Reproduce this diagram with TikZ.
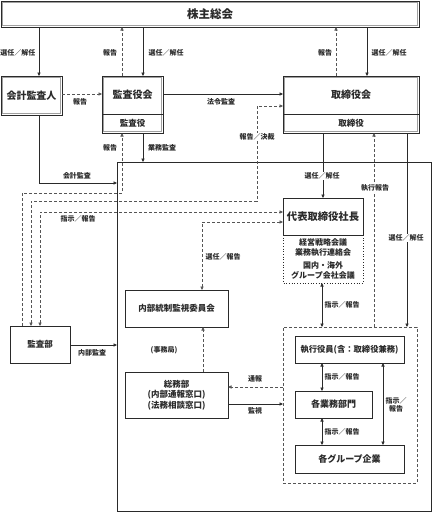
\documentclass[tikz,border=0pt]{standalone}
\usepackage{fontspec}
\setmainfont{Noto Sans CJK JP}
\usetikzlibrary{arrows.meta,calc}
\definecolor{lc}{HTML}{2A2A2A}
\definecolor{dc}{HTML}{555555}
\definecolor{fr}{HTML}{A0A0A0}
\begin{document}
\begin{tikzpicture}[x=1pt,y=-1pt,line width=0.6pt,
  every node/.style={inner sep=0pt,outer sep=0pt},
  plainbox/.style={draw=lc,rectangle},
  framebox/.style={draw=lc,rectangle,
    path picture={\draw[fr,line width=1.3pt]
      ([shift={(1.8pt,-1.8pt)}]path picture bounding box.north west) rectangle
      ([shift={(-1.8pt,1.8pt)}]path picture bounding box.south east);}},
  lbl/.style={font=\fontsize{7}{8.5}\selectfont\bfseries,text=lc},
  ttl/.style={font=\fontsize{10}{12}\selectfont\bfseries,text=lc},
  sm/.style={font=\fontsize{8.5}{10.5}\selectfont\bfseries,text=lc},
  arr/.style={draw=lc,-{Triangle[length=3.5pt,width=3.2pt]}},
  darr/.style={draw=lc,{Triangle[length=3.5pt,width=3.2pt]}-{Triangle[length=3.5pt,width=3.2pt]}},
  dsh/.style={draw=dc,dash pattern=on 3pt off 2pt}
]
\path[fill=white] (0,0) rectangle (432,512);
\useasboundingbox (0,0) rectangle (432,512);

% helper coordinates
\foreach \v in {22,31,39,40,122,143,202,203,257,322,323,336,367,374,383,407}
  {\coordinate (X\v) at (\v,0);}
\foreach \v in {94,106,114,183,193,201,212,222,345,387,404}
  {\coordinate (Y\v) at (0,\v);}

% outer big region
\node[draw=lc,line width=0.8pt,minimum width=314,minimum height=349] (big) at (274,336.5) {};

% boxes
\node[framebox,minimum width=418,minimum height=26,font=\fontsize{11.5}{13}\selectfont\bfseries,text=lc] (kabu) at (210,14) {株主総会};
\node[framebox,minimum width=61,minimum height=39,ttl] (kaikei) at (31.5,95.5) {会計監査人};
\node[framebox,minimum width=61,minimum height=57] (kansa) at (132.5,104.5) {};
\node[ttl] (kansaT) at (132.5,95) {監査役会};
\node[sm] (kansaS) at (132.5,123.5) {監査役};
\node[framebox,minimum width=136,minimum height=57] (tori) at (351,104.5) {};
\node[ttl] (toriT) at (351,95) {取締役会};
\node[sm] (toriS) at (351,123.5) {取締役};
\draw[lc] (kansa.west |- Y114) -- (kansa.east |- Y114);
\draw[lc] (tori.west |- Y114) -- (tori.east |- Y114);

\node[plainbox,minimum width=80,minimum height=37,font=\fontsize{10.3}{12}\selectfont\bfseries,text=lc] (daihyo) at (323,216.5) {代表取締役社長};
\node[minimum width=80,minimum height=48,font=\fontsize{8}{9.7}\selectfont\bfseries,text=lc,align=center] (kaigi) at (323,259)
  {経営戦略会議\\業務執行連絡会\\[3pt]国内・海外\\グループ会社会議};
\draw[lc,dotted,line width=0.7pt] (kaigi.north west) -- (kaigi.south west) -- (kaigi.south east) -- (kaigi.north east);

\node[plainbox,minimum width=103,minimum height=37,sm] (naibu) at (176.5,308.5) {内部統制監視委員会};
\node[plainbox,minimum width=103,minimum height=46,sm,align=center] (somu) at (176.5,395) {総務部\\(内部通報窓口)\\(法務相談窓口)};
\node[plainbox,minimum width=60,minimum height=37,sm] (kansabu) at (40,344.5) {監査部};

\node[draw=dc,dash pattern=on 3pt off 2pt,minimum width=134,minimum height=156] (exec) at (350,405) {};
\node[plainbox,minimum width=109,minimum height=27,font=\fontsize{8.3}{10}\selectfont\bfseries,text=lc] (shikko) at (349.5,349.5) {執行役員(含：取締役兼務)};
\node[plainbox,minimum width=77,minimum height=27,font=\fontsize{9}{11}\selectfont\bfseries,text=lc] (gyomu) at (333.5,404.5) {各業務部門};
\node[plainbox,minimum width=109,minimum height=28,font=\fontsize{9}{11}\selectfont\bfseries,text=lc] (group) at (349.5,459) {各グループ企業};

% connectors: top row
\draw[arr] (kabu.south -| X39) -- (kaikei.north -| X39);
\draw[arr,dsh] (kansa.north -| X122) -- (kabu.south -| X122);
\draw[arr] (kabu.south -| X143) -- (kansa.north -| X143);
\draw[arr,dsh] (tori.north -| X336) -- (kabu.south -| X336);
\draw[arr] (kabu.south -| X367) -- (tori.north -| X367);

% second row
\draw[arr,dsh] (kaikei.east |- Y94) -- (kansa.west |- Y94);
\draw[arr] (kansa.east |- Y94) -- (tori.west |- Y94);

% audit department links
\draw[darr,dsh] (kansabu.north -| X31) -- (X31 |- Y201) -- (X257 |- Y201) -- (X257 |- Y106) -- (tori.west |- Y106);
\draw[darr,dsh] (kansabu.north -| X40) -- (X40 |- Y212) -- (daihyo.west |- Y212);
\draw[darr,dsh] (naibu.north -| X202) -- (X202 |- Y222) -- (daihyo.west |- Y222);
\draw[arr,dsh] (kansabu.north -| X22) -- (X22 |- Y193) -- (X122 |- Y193) -- (kansa.south -| X122);

\draw[arr] (kansa.south -| X143) -- (big.north -| X143);
\draw[arr] (kaikei.south -| X39) -- (X39 |- Y183) -- (big.west |- Y183);

\draw[arr] (tori.south -| X323) -- (daihyo.north -| X323);
\draw[arr,dsh] (exec.north -| X374) -- (tori.south -| X374);
\draw[arr] (tori.south -| X407) -- (exec.north -| X407);
\draw[darr] (kaigi.south -| X322) -- (exec.north -| X322);

\draw[arr,dsh] (somu.north -| X203) -- (naibu.south -| X203);
\draw[arr,dsh] (exec.west |- Y387) -- (somu.east |- Y387);
\draw[arr] (somu.east |- Y404) -- (exec.west |- Y404);
\draw[arr] (kansabu.east |- Y345) -- (big.west |- Y345);

\draw[darr] (shikko.south -| X322) -- (gyomu.north -| X322);
\draw[darr] (gyomu.south -| X322) -- (group.north -| X322);
\draw[darr] (shikko.south -| X383) -- (group.north -| X383);

% labels
\node[lbl] (l1) at (18,53) {選任／解任};
\node[lbl] (l2) at (110,53) {報告};
\node[lbl] (l3) at (166,53) {選任／解任};
\node[lbl] (l4) at (325,53) {報告};
\node[lbl] (l5) at (389,53) {選任／解任};
\node[lbl] (l6) at (80,102) {報告};
\node[lbl] (l7) at (221,102) {法令監査};
\node[lbl,fill=white,inner sep=0.5pt] (l8) at (257,137) {報告／決裁};
\node[lbl] (l9) at (110,148) {報告};
\node[lbl] (l10) at (162,148) {業務監査};
\node[lbl] (l11) at (77,176) {会計監査};
\node[lbl,fill=white,inner sep=0.5pt] (l12) at (322,176) {選任／解任};
\node[lbl,fill=white,inner sep=0.5pt] (l13) at (375,188) {執行報告};
\node[lbl] (l14) at (78,219) {指示／報告};
\node[lbl] (l15) at (223,257) {選任／報告};
\node[lbl,fill=white,inner sep=0.5pt] (l16) at (406,238) {選任／解任};
\node[lbl] (l17) at (342,305) {指示／報告};
\node[lbl] (l18) at (164,350) {(事務局)};
\node[lbl] (l19) at (92,353) {内部監査};
\node[lbl] (l20) at (255,379) {通報};
\node[lbl] (l21) at (255,411) {監視};
\node[lbl] (l22) at (342,377) {指示／報告};
\node[lbl] (l23) at (342,432) {指示／報告};
\node[lbl,align=center] (l24) at (396,405) {指示／\\報告};
\end{tikzpicture}
\end{document}
